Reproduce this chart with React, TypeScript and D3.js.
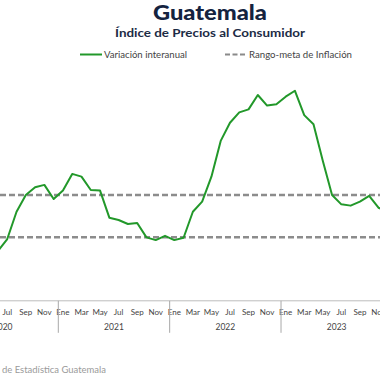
import React from "react";
import * as d3 from "d3";

const months: string[] = [];
for (const yr of [2020, 2021, 2022, 2023]) {
  for (let m = 1; m <= 12; m++) months.push(`${yr}-${String(m).padStart(2, "0")}`);
}
const monthAbbr = ["Ene", "Feb", "Mar", "Abr", "May", "Jun", "Jul", "Ago", "Sep", "Oct", "Nov", "Dic"];
const years = ["2020", "2021", "2022", "2023"];

const dataMonths = [
  "2020-06", "2020-07", "2020-08", "2020-09", "2020-10", "2020-11", "2020-12",
  "2021-01", "2021-02", "2021-03", "2021-04", "2021-05", "2021-06", "2021-07", "2021-08", "2021-09", "2021-10", "2021-11", "2021-12",
  "2022-01", "2022-02", "2022-03", "2022-04", "2022-05", "2022-06", "2022-07", "2022-08", "2022-09", "2022-10", "2022-11", "2022-12",
  "2023-01", "2023-02", "2023-03", "2023-04", "2023-05", "2023-06", "2023-07", "2023-08", "2023-09", "2023-10", "2023-11", "2023-12",
];
const inflation = [
  2.35, 2.92, 4.21, 5.0, 5.37, 5.48, 4.81,
  5.21, 6.0, 5.87, 5.24, 5.21, 3.93, 3.82, 3.63, 3.68, 3.0, 2.87, 3.07,
  2.87, 2.98, 4.21, 4.69, 5.87, 7.56, 8.42, 8.91, 9.05, 9.73, 9.23, 9.29,
  9.65, 9.93, 8.78, 8.35, 6.62, 5.0, 4.56, 4.5, 4.69, 4.96, 4.4, 4.2,
];
const targetRange = [3, 5];

const FONT = "Lato, 'Open Sans', sans-serif";

export default function App() {
  const x = d3.scaleBand<string>().domain(months).range([-53.06, -53.06 + 48 * 9.28]).padding(0);
  const y = d3.scaleLinear().domain([0, 10]).range([300.8, 89.3]);
  const cx = (m: string) => (x(m) as number) + x.bandwidth() / 2;

  const line = d3
    .line<number>()
    .x((_, i) => cx(dataMonths[i]))
    .y((d) => y(d));

  const axisY = y(0);

  return (
    <svg
      width={380}
      height={380}
      style={{ position: "absolute", left: 0, top: 0, background: "#fff" }}
      fontFamily={FONT}
    >
      <rect x={0} y={0} width={380} height={380} fill="#fff" />
      <text x={153} y={20} fontSize={21} fontWeight={900} fill="#14233f" textLength={114} lengthAdjust="spacingAndGlyphs">
        Guatemala
      </text>
      <text x={115} y={36.5} fontSize={11.5} fontWeight={700} fill="#1c2b45" textLength={190} lengthAdjust="spacingAndGlyphs">
        Índice de Precios al Consumidor
      </text>

      {/* legend */}
      <line x1={80} x2={102} y1={54.5} y2={54.5} stroke="#22982a" strokeWidth={2} />
      <text x={104} y={57.5} fontSize={9} fill="#444" textLength={83} lengthAdjust="spacingAndGlyphs">Variación interanual</text>
      <line x1={225} x2={247} y1={54.5} y2={54.5} stroke="#8a8a8a" strokeWidth={2} strokeDasharray="5,2.5" />
      <text x={249} y={57.5} fontSize={9} fill="#444" textLength={103} lengthAdjust="spacingAndGlyphs">Rango-meta de Inflación</text>

      {/* target range */}
      {targetRange.map((v) => (
        <line key={v} x1={0} x2={380} y1={y(v)} y2={y(v)} stroke="#8c8c8c" strokeWidth={2.5} strokeDasharray="6,3" />
      ))}

      {/* series */}
      <path d={line(inflation) || ""} fill="none" stroke="#22982a" strokeWidth={2} strokeLinejoin="round" />

      {/* x axis */}
      <line x1={0} x2={380} y1={axisY} y2={axisY} stroke="#bdbdbd" strokeWidth={1} />
      {months.map((m, i) =>
        i % 2 === 0 && cx(m) > -6 ? (
          <text key={m} x={cx(m)} y={axisY + 14} textAnchor="middle" fontSize={8} fill="#444">
            {monthAbbr[i % 12]}
          </text>
        ) : null
      )}
      {years.map((yr) => {
        const start = x(`${yr}-01`) as number;
        const end = (x(`${yr}-12`) as number) + x.bandwidth();
        return (
          <g key={yr}>
            <line x1={start} x2={start} y1={axisY} y2={axisY + 32} stroke="#a8a8a8" strokeWidth={1} />
            <text x={(start + end) / 2} y={axisY + 29} textAnchor="middle" fontSize={8.5} fill="#444">
              {yr}
            </text>
          </g>
        );
      })}

      <text x={-3} y={373} textAnchor="end" fontSize={9} fill="#9a9a9a">
        Fuente: Instituto Nacional
      </text>
      <text x={2} y={373} fontSize={9} fill="#9a9a9a" textLength={104} lengthAdjust="spacingAndGlyphs">
        de Estadística Guatemala
      </text>
    </svg>
  );
}
